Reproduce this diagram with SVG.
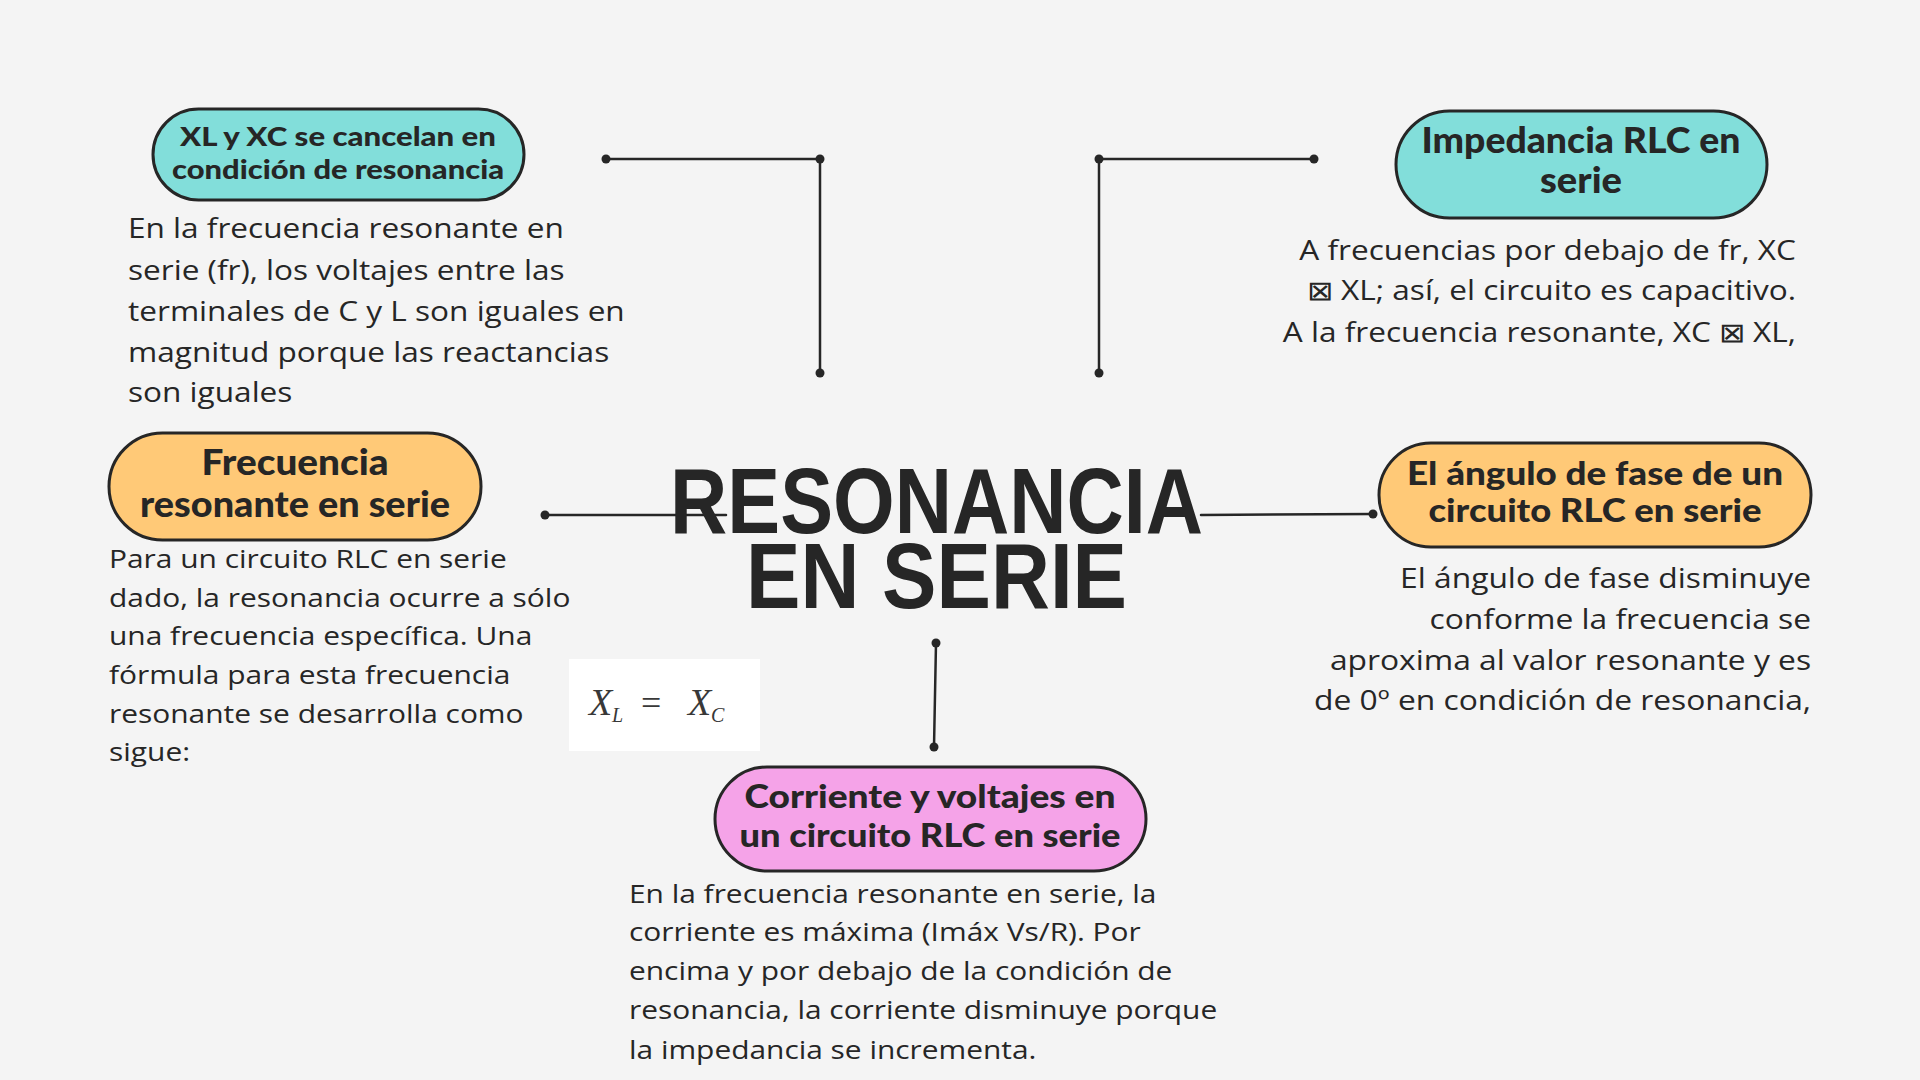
<svg xmlns="http://www.w3.org/2000/svg" width="1920" height="1080" viewBox="0 0 1920 1080">
<style>
.pill{stroke:#262626;stroke-width:3}
.teal{fill:#82DEDA}
.orange{fill:#FFC977}
.pink{fill:#F5A3E8}
.hd{font-family:Lato,"Liberation Sans",sans-serif;font-weight:900;fill:#262626;text-anchor:middle}
.body{font-family:"Open Sans","Liberation Sans",sans-serif;fill:#262626}
.conn line{stroke:#262626;stroke-width:2.5;stroke-linecap:round}
.conn circle{fill:#262626}
.title{font-family:"Liberation Sans",Arial,sans-serif;font-weight:700;fill:#262626;text-anchor:middle;font-size:92px}
.math{font-family:"Liberation Serif","Times New Roman",serif;fill:#383838;font-style:italic}
</style>
<rect width="1920" height="1080" fill="#F4F4F4"/>

<g id="connectors" class="conn">
  <line x1="606" y1="159" x2="820" y2="159"/>
  <line x1="820" y1="159" x2="820" y2="373"/>
  <circle cx="606" cy="159" r="4.5"/>
  <circle cx="820" cy="159" r="4.5"/>
  <circle cx="820" cy="373" r="4.5"/>
  <line x1="1099" y1="159" x2="1314" y2="159"/>
  <line x1="1099" y1="159" x2="1099" y2="373"/>
  <circle cx="1099" cy="159" r="4.5"/>
  <circle cx="1314" cy="159" r="4.5"/>
  <circle cx="1099" cy="373" r="4.5"/>
  <line x1="545" y1="515" x2="726" y2="515"/>
  <circle cx="545" cy="515" r="4.5"/>
  <line x1="1201" y1="515" x2="1373" y2="514"/>
  <circle cx="1373" cy="514" r="4.5"/>
  <line x1="936" y1="643" x2="934" y2="747"/>
  <circle cx="936" cy="643" r="4.5"/>
  <circle cx="934" cy="747" r="4.5"/>
</g>

<g id="title">
  <text class="title"><tspan x="936.5" y="533" textLength="533" lengthAdjust="spacingAndGlyphs">RESONANCIA</tspan><tspan x="936.5" y="608" textLength="381" lengthAdjust="spacingAndGlyphs">EN SERIE</tspan></text>
</g>

<g id="node-xl-xc">
  <rect class="pill teal" x="153" y="109" width="371" height="91" rx="45.5"/>
  <text class="hd" font-size="27"><tspan x="338" y="146" textLength="316" lengthAdjust="spacingAndGlyphs">XL y XC se cancelan en</tspan><tspan x="338" y="179" textLength="332" lengthAdjust="spacingAndGlyphs">condición de resonancia</tspan></text>
  <g class="body" font-size="27" transform="matrix(1.17 0 0 1 -21.76 0)">
    <text x="128" y="238">En la frecuencia resonante en</text>
    <text x="128" y="280">serie (fr), los voltajes entre las</text>
    <text x="128" y="321">terminales de C y L son iguales en</text>
    <text x="128" y="362">magnitud porque las reactancias</text>
    <text x="128" y="402">son iguales</text>
  </g>
</g>

<g id="node-impedancia">
  <rect class="pill teal" x="1396" y="111" width="371" height="107" rx="53.5"/>
  <text class="hd" x="1581" y="153" font-size="36" textLength="319" lengthAdjust="spacingAndGlyphs">Impedancia RLC en</text>
  <text class="hd" x="1581" y="193" font-size="36" textLength="82" lengthAdjust="spacingAndGlyphs">serie</text>
  <g class="body" font-size="27" text-anchor="end" transform="matrix(1.17 0 0 1 -305.3 0)">
    <text x="1796" y="260">A frecuencias por debajo de fr, XC</text>
    <text x="1796" y="300">⊠ XL; así, el circuito es capacitivo.</text>
    <text x="1796" y="342">A la frecuencia resonante, XC ⊠ XL,</text>
  </g>
</g>

<g id="node-frecuencia">
  <rect class="pill orange" x="109" y="433" width="372" height="107" rx="53.5"/>
  <text class="hd" x="295" y="475" font-size="36" textLength="187" lengthAdjust="spacingAndGlyphs">Frecuencia</text>
  <text class="hd" x="295" y="517" font-size="36" textLength="310" lengthAdjust="spacingAndGlyphs">resonante en serie</text>
  <g class="body" font-size="25" transform="matrix(1.197 0 0 1 -21.47 0)">
    <text x="109" y="568">Para un circuito RLC en serie</text>
    <text x="109" y="607">dado, la resonancia ocurre a sólo</text>
    <text x="109" y="645">una frecuencia específica. Una</text>
    <text x="109" y="684">fórmula para esta frecuencia</text>
    <text x="109" y="723">resonante se desarrolla como</text>
    <text x="109" y="761">sigue:</text>
  </g>
</g>

<g id="formula">
  <rect x="569" y="659" width="191" height="92" fill="#FFFFFF"/>
  <text class="math" x="589" y="715" font-size="38">X</text>
  <text class="math" x="612" y="722" font-size="20">L</text>
  <text x="641" y="715" font-size="36" font-family="Liberation Serif,serif" fill="#383838">=</text>
  <text class="math" x="688" y="715" font-size="38">X</text>
  <text class="math" x="711" y="722" font-size="20">C</text>
</g>

<g id="node-angulo">
  <rect class="pill orange" x="1379" y="443" width="432" height="104" rx="52"/>
  <text class="hd" x="1595" y="485" font-size="32" textLength="376" lengthAdjust="spacingAndGlyphs">El ángulo de fase de un</text>
  <text class="hd" x="1595" y="522" font-size="32" textLength="333" lengthAdjust="spacingAndGlyphs">circuito RLC en serie</text>
  <g class="body" font-size="27" text-anchor="end" transform="matrix(1.177 0 0 1 -320.5 0)">
    <text x="1811" y="588">El ángulo de fase disminuye</text>
    <text x="1811" y="629">conforme la frecuencia se</text>
    <text x="1811" y="670">aproxima al valor resonante y es</text>
    <text x="1811" y="710">de 0º en condición de resonancia,</text>
  </g>
</g>

<g id="node-corriente">
  <rect class="pill pink" x="715" y="767" width="431" height="104" rx="52"/>
  <text class="hd" x="930" y="808" font-size="32" textLength="371" lengthAdjust="spacingAndGlyphs">Corriente y voltajes en</text>
  <text class="hd" x="930" y="847" font-size="32" textLength="381" lengthAdjust="spacingAndGlyphs">un circuito RLC en serie</text>
  <g class="body" font-size="26" transform="matrix(1.15 0 0 1 -94.35 0)">
    <text x="629" y="903">En la frecuencia resonante en serie, la</text>
    <text x="629" y="941">corriente es máxima (Imáx Vs/R). Por</text>
    <text x="629" y="980">encima y por debajo de la condición de</text>
    <text x="629" y="1019">resonancia, la corriente disminuye porque</text>
    <text x="629" y="1059">la impedancia se incrementa.</text>
  </g>
</g>
</svg>
